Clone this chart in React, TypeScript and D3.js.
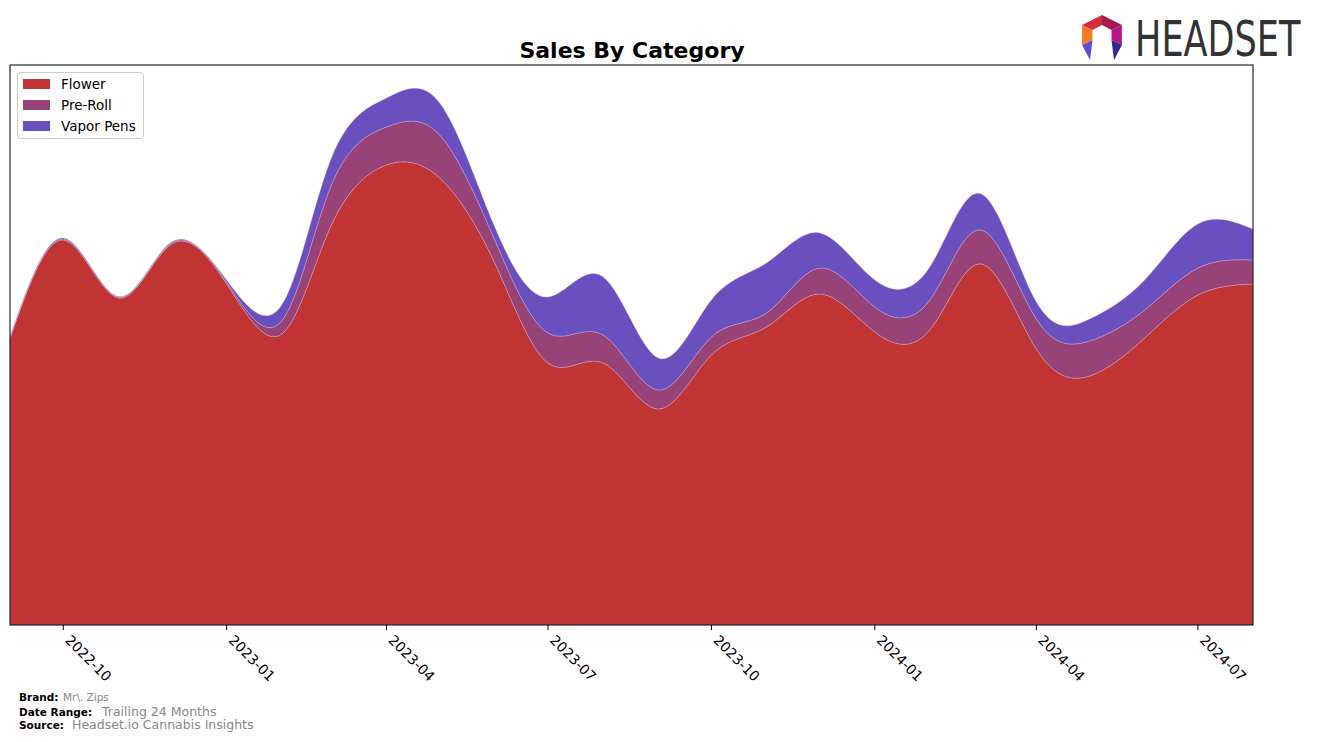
import React from "react";
import * as d3 from "d3";

const months = [
  "2022-09", "2022-10", "2022-11", "2022-12", "2023-01", "2023-02", "2023-03", "2023-04",
  "2023-05", "2023-06", "2023-07", "2023-08", "2023-09", "2023-10", "2023-11", "2023-12",
  "2024-01", "2024-02", "2024-03", "2024-04", "2024-05", "2024-06", "2024-07", "2024-08",
];
const flower = [287, 385, 327, 381, 341, 291, 400, 460, 447, 362, 262, 262, 216, 270, 298, 331, 293, 295, 361, 276, 249, 287, 330, 341];
const preRoll = [0.5, 1, 1, 1, 2, 13, 40, 38, 43, 23, 30, 28, 19, 18, 14, 26, 25, 30, 34, 30, 35, 28, 27, 24];
const vaporPens = [0.5, 1, 0.5, 1, 2, 16, 27, 29, 32, 13, 36, 58, 32, 37, 50, 35, 27, 33, 36, 17, 22, 30, 44, 31];

const seriesNames = ["Flower", "Pre-Roll", "Vapor Pens"];
const seriesColors = ["#c13434", "#984377", "#6a4fbf"];
const tickLabels = ["2022-10", "2023-01", "2023-04", "2023-07", "2023-10", "2024-01", "2024-04", "2024-07"];

const W = 1317, H = 742;
const L = 10, R = 1253, T = 65, B = 625;

const parse = (s: string) => {
  const [y, m] = s.split("-").map(Number);
  return new Date(Date.UTC(y, m - 1, 1));
};

export default function App() {
  const rows = months.map((m, i) => ({
    date: parse(m),
    "Flower": flower[i],
    "Pre-Roll": preRoll[i],
    "Vapor Pens": vaporPens[i],
  }));
  const x = d3.scaleUtc().domain([parse(months[0]), parse(months[months.length - 1])]).range([L, R]);
  const y = d3.scaleLinear().domain([0, 560]).range([B, T]);
  const stack = d3.stack<any>().keys(seriesNames);
  const layers = stack(rows);
  const area = d3
    .area<any>()
    .x((d) => x(d.data.date))
    .y0((d) => y(d[0]))
    .y1((d) => y(d[1]))
    .curve(d3.curveNatural);

  const font = "DejaVu Sans, sans-serif";

  // logo geometry
  const cx = 1102, cy = 35, rx = 23, ry = 20, rix = 11, riy = 10;
  const pt = (ax: number, ay: number, a: number) => [cx + ax * Math.cos((a * Math.PI) / 180), cy + ay * Math.sin((a * Math.PI) / 180)];
  const angles = [-90, -30, 30, 90, 150, 210];
  const O = angles.map((a) => pt(rx, ry, a));
  const I = angles.map((a) => pt(rix, riy, a));
  const poly = (ps: number[][]) => ps.map((p) => p.join(",")).join(" ");

  return (
    <svg width={W} height={H} style={{ position: "absolute", left: 0, top: 0, background: "#fff" }} fontFamily={font}>
      <defs>
        <clipPath id="plotclip">
          <rect x={L} y={T} width={R - L} height={B - T} />
        </clipPath>
      </defs>
      <rect x={0} y={0} width={W} height={H} fill="#fff" />
      <text x={632} y={58} textAnchor="middle" fontSize={22} fontWeight="bold" fill="#000">
        Sales By Category
      </text>
      <g clipPath="url(#plotclip)">
        {layers.map((layer, i) => (
          <path key={i} d={area(layer) || ""} fill={seriesColors[i]} stroke="#d8b8d8" strokeOpacity={0.6} strokeWidth={0.6} />
        ))}
      </g>
      <rect x={L} y={T} width={R - L} height={B - T} fill="none" stroke="#000" strokeWidth={1} />
      {tickLabels.map((t) => {
        const tx = x(parse(t));
        return (
          <g key={t}>
            <line x1={tx} x2={tx} y1={B} y2={B + 5} stroke="#000" />
            <text transform={`translate(${tx + 1},${B + 16}) rotate(45)`} fontSize={14} fill="#000" textAnchor="start">
              {t}
            </text>
          </g>
        );
      })}
      {/* legend */}
      <rect x={17.5} y={72.5} width={126} height={66} rx={3} fill="#fff" fillOpacity={0.8} stroke="#ccc" />
      {seriesNames.map((n, i) => (
        <g key={n}>
          <rect x={23} y={79 + i * 21} width={27} height={10} fill={seriesColors[i]} />
          <text x={61} y={89 + i * 21} fontSize={13.5} fill="#000">
            {n}
          </text>
        </g>
      ))}
      {/* footer */}
      <text x={19} y={701} fontSize={10.5} fontWeight="bold" fill="#000">Brand:</text>
      <text x={63} y={701} fontSize={10.5} fill="#888">Mr\. Zips</text>
      <text x={19} y={716} fontSize={10.5} fontWeight="bold" fill="#000">Date Range:</text>
      <text x={102} y={716} fontSize={12.5} fill="#888">Trailing 24 Months</text>
      <text x={19} y={729} fontSize={10.5} fontWeight="bold" fill="#000">Source:</text>
      <text x={72} y={729} fontSize={12.5} fill="#888">Headset.io Cannabis Insights</text>
      {/* logo */}
      <g>
        <polygon points={poly([O[0], O[1], I[1], I[0]])} fill="#a3174b" />
        <polygon points={poly([O[1], O[2], I[2], I[1]])} fill="#b5178a" />
        <polygon points={poly([O[2], [cx + 12, cy + 25], I[2]])} fill="#2e2a8f" />
        <polygon points={poly([O[4], [cx - 12, cy + 25], I[4]])} fill="#5a4fcf" />
        <polygon points={poly([O[4], O[5], I[5], I[4]])} fill="#f47c20" />
        <polygon points={poly([O[5], O[0], I[0], I[5]])} fill="#d62b3a" />
      </g>
      <g transform="translate(1135,56) scale(1,1.27)">
        <text x={0} y={0} fontSize={39} fill="#333" fontFamily="DejaVu Sans Condensed, DejaVu Sans, sans-serif">
          HEADSET
        </text>
      </g>
    </svg>
  );
}
